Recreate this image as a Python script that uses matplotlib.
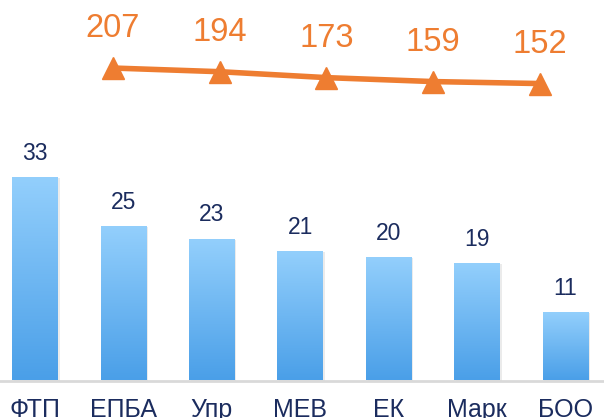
import numpy as np
import matplotlib
matplotlib.use('Agg')
import matplotlib.pyplot as plt
from matplotlib.colors import LinearSegmentedColormap
from matplotlib.patches import Rectangle

# data
categories = ['ФТП', 'ЕПБА', 'Упр', 'МЕВ', 'ЕК', 'Марк', 'БОО']
bar_values = [33, 25, 23, 21, 20, 19, 11]
line_values = [207, 194, 173, 159, 152]

navy = '#1B2C5E'
orange = '#EE7D31'
plt.rcParams['font.family'] = ['Liberation Sans', 'DejaVu Sans']

W, H = 604, 418
fig = plt.figure(figsize=(W / 100, H / 100), dpi=100)

base_px = 380.5  # baseline from top
ax = fig.add_axes([0, (H - base_px) / H, 1, base_px / H])
step = 88.4
ax.set_xlim(-35 / step, 6 + (W - 565.5) / step)
ax.set_ylim(0, base_px / 6.13)

x = np.arange(len(categories))
bars = ax.bar(x, bar_values, width=0.515, color='none', zorder=2)

cmap = LinearSegmentedColormap.from_list('blu', ['#4A9FE8', '#93CFFC'])
grad = np.linspace(0, 1, 256).reshape(-1, 1)
for b in bars:
    x0, w, h = b.get_x(), b.get_width(), b.get_height()
    # soft shadow on the right side
    ax.add_patch(Rectangle((x0 + 0.02, 0), w, h, color='#000000', alpha=0.08,
                           lw=0, zorder=1))
    ax.imshow(grad, extent=[x0, x0 + w, 0, h], origin='lower', cmap=cmap,
              aspect='auto', zorder=2)
    ax.annotate(str(int(h)), (x0 + w / 2, h), xytext=(0, 13),
                textcoords='offset points', ha='center', va='baseline',
                fontsize=16.5, color=navy)

ax.set_xticks(x)
ax.set_xticklabels(categories, fontsize=18, color=navy)
ax.tick_params(axis='x', length=0, pad=12.5)
ax.set_yticks([])
for s in ['top', 'right', 'left']:
    ax.spines[s].set_visible(False)
ax.spines['bottom'].set_color('#D9D9D9')
ax.spines['bottom'].set_linewidth(2)
ax.set_zorder(1)

# secondary category axis for the line
L, Wd = 59.6, 533.75
ax2 = fig.add_axes([L / W, (H - base_px) / H, Wd / W, base_px / H])
ax2.patch.set_visible(False)
ax2.axis('off')
xl = np.arange(len(line_values))
ax2.set_xlim(-0.5, len(line_values) - 0.5)
ax2.set_ylim(-900, 448)
ax2.plot(xl, line_values, color=orange, lw=4, marker='^', markersize=16,
         solid_capstyle='butt')
for xi, v in zip(xl, line_values):
    ax2.annotate(str(v), (xi, v), xytext=(0, 22), textcoords='offset points',
                 ha='center', va='baseline', fontsize=23.5, color=orange)
ax2.set_zorder(2)

fig.savefig('out.png', dpi=100)
